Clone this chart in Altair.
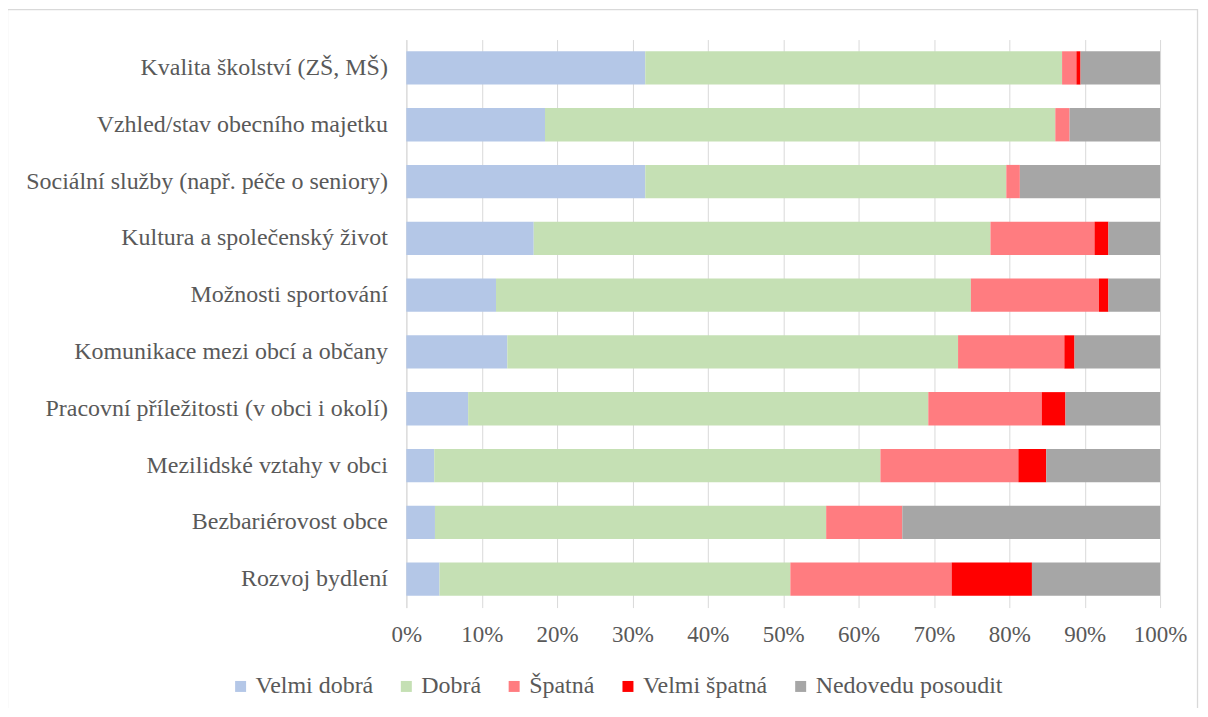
import altair as alt
import pandas as pd

categories = [
    "Kvalita školství (ZŠ, MŠ)",
    "Vzhled/stav obecního majetku",
    "Sociální služby (např. péče o seniory)",
    "Kultura a společenský život",
    "Možnosti sportování",
    "Komunikace mezi obcí a občany",
    "Pracovní příležitosti (v obci i okolí)",
    "Mezilidské vztahy v obci",
    "Bezbariérovost obce",
    "Rozvoj bydlení",
]
series = ["Velmi dobrá", "Dobrá", "Špatná", "Velmi špatná", "Nedovedu posoudit"]
velmi_dobra = [31.7, 18.4, 31.7, 16.9, 11.9, 13.4, 8.2, 3.7, 3.8, 4.4]
dobra = [55.3, 67.7, 47.9, 60.6, 63.0, 59.8, 61.05, 59.2, 51.9, 46.55]
spatna = [1.9, 1.9, 1.8, 13.8, 17.0, 14.1, 15.05, 18.3, 10.1, 21.4]
velmi_spatna = [0.55, 0.0, 0.0, 1.85, 1.25, 1.35, 3.15, 3.7, 0.0, 10.65]
nedovedu = [10.55, 12.0, 18.6, 6.85, 6.85, 11.35, 12.55, 15.1, 34.2, 17.0]
colors = ["#b4c7e7", "#c5e0b4", "#ff7c80", "#ff0000", "#a6a6a6"]
x_ticks = [0, 0.1, 0.2, 0.3, 0.4, 0.5, 0.6, 0.7, 0.8, 0.9, 1.0]

rows = []
for si, (name, vals) in enumerate(zip(series, [velmi_dobra, dobra, spatna, velmi_spatna, nedovedu])):
    for ci, c in enumerate(categories):
        rows.append({"kategorie": c, "hodnoceni": name, "podil": vals[ci], "poradi": si})
df = pd.DataFrame(rows)

FONT = "Liberation Serif"
TXT = "#595959"

bars = alt.Chart(df).mark_bar().encode(
    x=alt.X(
        "podil:Q",
        stack="normalize",
        scale=alt.Scale(domain=[0, 1], nice=False),
        axis=alt.Axis(
            values=x_ticks, format="%", grid=True, gridColor="#d9d9d9", gridWidth=1,
            domain=False, ticks=False, labelPadding=16, title=None, labelFlush=False,
            labelFont=FONT, labelFontSize=23, labelColor=TXT,
        ),
    ),
    y=alt.Y(
        "kategorie:N",
        sort=categories,
        scale=alt.Scale(paddingInner=0.414, paddingOuter=0.207),
        axis=alt.Axis(
            title=None, ticks=False, domain=True, domainColor="#d9d9d9", domainWidth=1,
            labelPadding=19, labelFont=FONT, labelFontSize=24, labelColor=TXT, labelLimit=500,
        ),
    ),
    color=alt.Color(
        "hodnoceni:N",
        scale=alt.Scale(domain=series, range=colors),
        legend=alt.Legend(
            orient="none", legendX=-178, legendY=636, direction="horizontal", columns=5,
            symbolType="square", symbolSize=121, symbolStrokeWidth=0,
            labelFont=FONT, labelFontSize=24, labelColor=TXT, labelOffset=3, labelLimit=400,
            columnPadding=21, title=None,
        ),
    ),
    order=alt.Order("poradi:Q", sort="ascending"),
)

frame = alt.Chart(pd.DataFrame({"a": [0]})).mark_rect(
    fillOpacity=0, stroke="#d9d9d9", strokeWidth=1.3
).encode(
    x=alt.value(-399.5), x2=alt.value(792.5), y=alt.value(-30), y2=alt.value(720)
)

chart = alt.layer(bars, frame).properties(
    width=755,
    height=569,
    autosize=alt.AutoSizeParams(type="none"),
    padding={"left": 399, "top": 31, "right": 40, "bottom": 100},
).configure(font=FONT).configure_axis(
    labelFont=FONT, labelColor=TXT
).configure_legend(
    labelFont=FONT, labelFontSize=24, labelColor=TXT, labelLimit=400
).configure_view(strokeWidth=0)

chart.save("out.html", embed_options={"renderer": "svg", "actions": False})
